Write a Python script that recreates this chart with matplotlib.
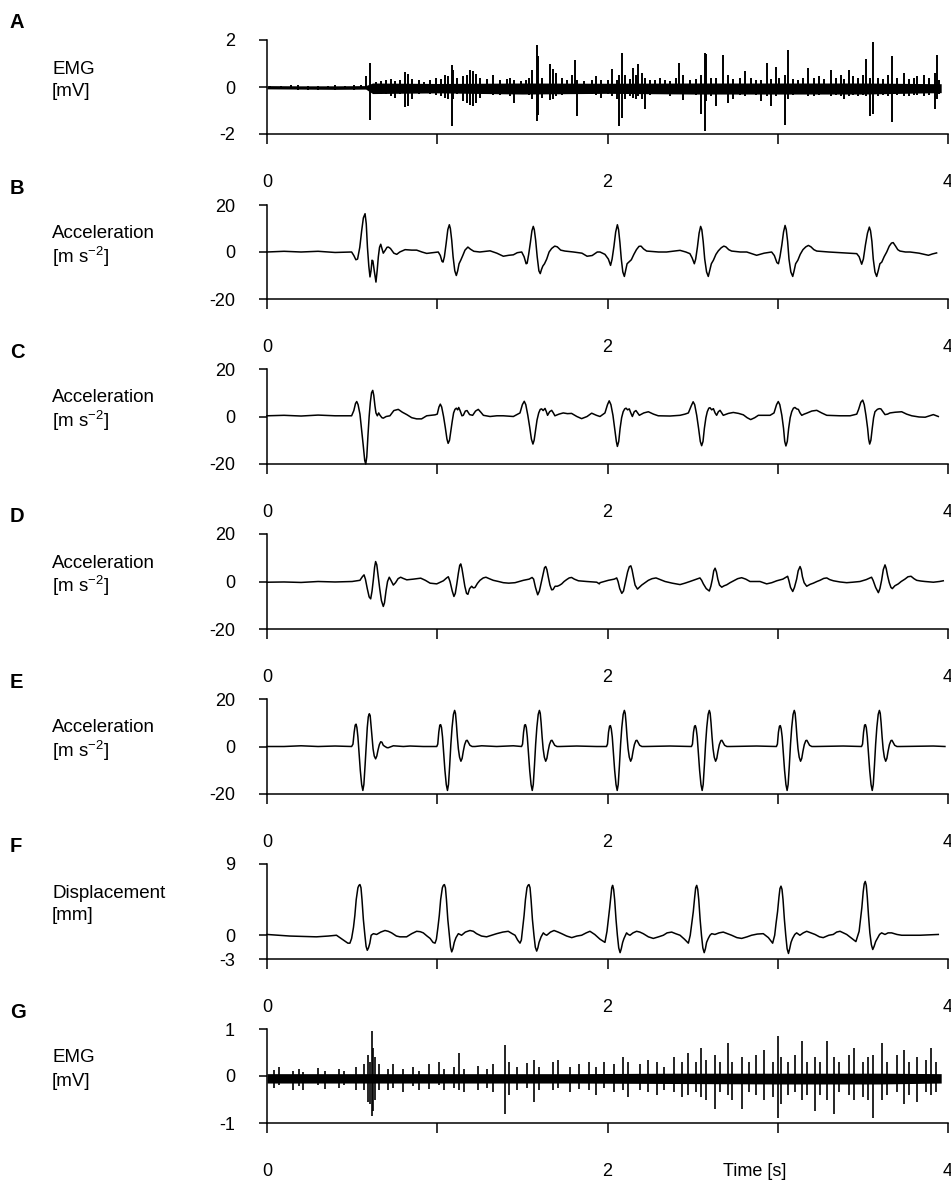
import matplotlib
matplotlib.use("Agg")
import matplotlib.pyplot as plt
import numpy as np

plt.rcParams['font.family'] = ['Liberation Sans', 'DejaVu Sans']
plt.rcParams['mathtext.fontset'] = 'custom'
plt.rcParams['mathtext.rm'] = 'Liberation Sans'
plt.rcParams['mathtext.it'] = 'Liberation Sans'
plt.rcParams['axes.unicode_minus'] = False

# ---------------- data ----------------
panel_letters = ['A', 'B', 'C', 'D', 'E', 'F', 'G']
label_line1 = ['EMG', 'Acceleration', 'Acceleration', 'Acceleration', 'Acceleration', 'Displacement', 'EMG']
label_line2 = ['[mV]', '[m s$^{-2}$]', '[m s$^{-2}$]', '[m s$^{-2}$]', '[m s$^{-2}$]', '[mm]', '[mV]']
y_limits = [(-2, 2), (-20, 20), (-20, 20), (-20, 20), (-20, 20), (-3, 9), (-1, 1)]
y_ticks = [[-2, 0, 2], [-20, 0, 20], [-20, 0, 20], [-20, 0, 20], [-20, 0, 20], [-3, 0, 9], [-1, 0, 1]]
x_ticks = [0, 1, 2, 3, 4]
x_ticklabels = ['0', '', '2', '', '4']
xlabel = 'Time [s]'

# Panel A: EMG -- baseline band (t, upper, lower) and individual strokes (t, upper, lower)
emgA_band = [(0, 0.06, -0.08), (0.2, 0.05, -0.09), (0.4, 0.05, -0.1), (0.58, 0.06, -0.09),
             (0.62, 0.17, -0.28), (1.0, 0.15, -0.25), (1.5, 0.17, -0.3), (2.0, 0.16, -0.27),
             (2.5, 0.17, -0.3), (3.0, 0.17, -0.3), (3.5, 0.17, -0.3), (3.96, 0.14, -0.24)]
emgA_strokes = [
    (0.02, 0.06, -0.1), (0.08, 0.04, -0.1), (0.14, 0.07, -0.1), (0.18, 0.08, -0.12), (0.24, 0.05, -0.11),
    (0.30, 0.06, -0.12), (0.36, 0.05, -0.1), (0.40, 0.1, -0.12), (0.46, 0.05, -0.1), (0.51, 0.07, -0.11),
    (0.55, 0.1, -0.1), (0.583, 0.45, -0.1), (0.605, 1.03, -1.39), (0.64, 0.2, -0.25), (0.67, 0.25, -0.3),
    (0.70, 0.3, -0.3), (0.73, 0.35, -0.4), (0.75, 0.25, -0.45), (0.78, 0.3, -0.3), (0.81, 0.65, -0.87),
    (0.83, 0.55, -0.8), (0.85, 0.35, -0.5), (0.89, 0.3, -0.3), (0.92, 0.2, -0.25), (0.96, 0.3, -0.3),
    (0.99, 0.4, -0.35), (1.02, 0.35, -0.4), (1.045, 0.5, -0.45), (1.065, 0.45, -0.5), (1.085, 0.93, -1.64),
    (1.095, 0.72, -0.5), (1.114, 0.4, -0.3), (1.153, 0.45, -0.6), (1.173, 0.5, -0.7), (1.19, 0.72, -0.78),
    (1.212, 0.7, -0.8), (1.23, 0.55, -0.7), (1.25, 0.4, -0.45), (1.29, 0.35, -0.3), (1.33, 0.5, -0.35),
    (1.37, 0.3, -0.35), (1.41, 0.35, -0.3), (1.43, 0.4, -0.4), (1.45, 0.3, -0.67), (1.49, 0.25, -0.25),
    (1.52, 0.3, -0.3), (1.54, 0.4, -0.35), (1.555, 0.72, -0.5), (1.584, 1.79, -1.43), (1.594, 1.3, -1.2),
    (1.613, 0.4, -0.45), (1.66, 0.96, -0.55), (1.68, 0.75, -0.5), (1.70, 0.6, -0.4), (1.73, 0.4, -0.35),
    (1.76, 0.3, -0.3), (1.79, 0.5, -0.3), (1.81, 1.14, -0.3), (1.82, 0.3, -1.22), (1.86, 0.25, -0.25),
    (1.91, 0.3, -0.3), (1.93, 0.45, -0.35), (1.96, 0.3, -0.45), (2.00, 0.3, -0.3), (2.024, 0.75, -0.4),
    (2.054, 0.3, -0.5), (2.07, 0.5, -1.64), (2.084, 1.44, -1.3), (2.10, 0.5, -0.5), (2.13, 0.35, -0.4),
    (2.15, 0.8, -0.45), (2.17, 0.5, -0.5), (2.18, 0.96, -0.4), (2.20, 0.6, -0.5), (2.22, 0.4, -0.94),
    (2.25, 0.3, -0.35), (2.28, 0.3, -0.3), (2.31, 0.4, -0.3), (2.34, 0.3, -0.3), (2.37, 0.25, -0.4),
    (2.40, 0.4, -0.3), (2.42, 1.04, -0.3), (2.445, 0.5, -0.55), (2.485, 0.3, -0.3), (2.52, 0.35, -0.35),
    (2.55, 0.5, -1.15), (2.57, 1.44, -1.89), (2.58, 1.4, -0.6), (2.61, 0.4, -0.4), (2.64, 0.4, -0.8),
    (2.68, 1.35, -0.3), (2.71, 0.5, -0.7), (2.74, 0.35, -0.5), (2.78, 0.4, -0.35), (2.81, 0.68, -0.4),
    (2.84, 0.4, -0.3), (2.87, 0.3, -0.35), (2.90, 0.3, -0.6), (2.935, 1.04, -0.4), (2.96, 0.35, -0.8),
    (2.99, 0.85, -0.4), (3.01, 0.4, -0.3), (3.043, 0.5, -1.61), (3.062, 1.58, -0.5), (3.09, 0.35, -0.35),
    (3.12, 0.3, -0.3), (3.15, 0.4, -0.3), (3.18, 0.82, -0.4), (3.21, 0.4, -0.4), (3.24, 0.45, -0.35),
    (3.27, 0.35, -0.3), (3.31, 0.72, -0.4), (3.34, 0.4, -0.35), (3.37, 0.5, -0.4), (3.39, 0.35, -0.53),
    (3.42, 0.73, -0.4), (3.44, 0.45, -0.35), (3.47, 0.4, -0.4), (3.50, 0.5, -0.35), (3.516, 1.21, -0.4),
    (3.54, 0.4, -1.25), (3.56, 1.90, -1.15), (3.59, 0.4, -0.4), (3.62, 0.35, -0.35), (3.65, 0.5, -0.4),
    (3.67, 1.31, -1.5), (3.70, 0.4, -0.35), (3.74, 0.6, -0.4), (3.77, 0.35, -0.4), (3.80, 0.4, -0.35),
    (3.82, 0.45, -0.35), (3.86, 0.5, -0.4), (3.89, 0.4, -0.35), (3.924, 0.6, -0.92), (3.933, 1.35, -0.5),
    (3.95, 0.3, -0.3)]

# Panel B: acceleration (t [s], a [m s-2])
accB = [
    (0.0, 0), (0.1, 0.3), (0.2, 0), (0.3, 0.3), (0.4, -0.2), (0.497, 0), (0.510, -1.5), (0.522, -3.3),
    (0.532, -3.0), (0.545, 2), (0.556, 9), (0.566, 14.5), (0.576, 16.3), (0.583, 12), (0.590, 2),
    (0.598, -6), (0.605, -10.6), (0.611, -8), (0.617, -3.5), (0.622, -3.8), (0.630, -8), (0.640, -12.8),
    (0.647, -8), (0.654, -2), (0.661, 2), (0.668, 3.3), (0.675, 1.5), (0.683, -0.5), (0.695, 0.8),
    (0.705, 2), (0.713, 2.1), (0.725, 1.5), (0.745, -0.5), (0.762, -1.0), (0.780, 0), (0.811, 1.0),
    (0.85, 0.8), (0.879, 0.8), (0.91, 0), (0.938, -0.6), (0.97, -0.3),
    (1.006, 0), (1.018, -1.5), (1.028, -4), (1.034, -4.3), (1.042, -2), (1.052, 3.5), (1.062, 9.5),
    (1.071, 11.6), (1.077, 10), (1.085, 5), (1.093, -2), (1.103, -8), (1.112, -10), (1.120, -8),
    (1.128, -5), (1.138, -3.5), (1.150, -1.5), (1.163, 0.8), (1.180, 2.1), (1.195, 1.2), (1.215, 0.3),
    (1.25, 0), (1.31, 0.5), (1.35, -0.5), (1.388, -1.8), (1.42, -1.4), (1.447, -1.2), (1.47, -0.3),
    (1.496, 0), (1.510, -2), (1.522, -5), (1.528, -4.8), (1.537, -1), (1.547, 4), (1.556, 9),
    (1.564, 10.9), (1.570, 9.5), (1.578, 5), (1.587, -2), (1.597, -8), (1.605, -9.2), (1.612, -7.5),
    (1.620, -6), (1.630, -5), (1.643, -3), (1.657, 0), (1.672, 1.5), (1.690, 2.5), (1.705, 2.2),
    (1.725, 0.8), (1.750, 0.4), (1.80, 0), (1.85, -0.5), (1.88, -1.8), (1.91, -1.5), (1.94, 0),
    (1.956, 0), (1.985, -1), (2.005, -3), (2.018, -5.7), (2.027, -3), (2.038, 2.5), (2.048, 8.5),
    (2.058, 11.6), (2.065, 9.5), (2.073, 4), (2.081, -3), (2.090, -8.5), (2.099, -10.4), (2.106, -8),
    (2.115, -5), (2.125, -4.3), (2.140, -3.3), (2.155, -1), (2.170, 1), (2.185, 2.4), (2.197, 2.5),
    (2.212, 1.3), (2.230, 0.4), (2.30, 0), (2.347, 0), (2.40, 0.5), (2.426, 0.7), (2.46, 0), (2.484, -0.7),
    (2.497, -2.5), (2.510, -5), (2.518, -3), (2.528, 2), (2.538, 8), (2.547, 10.9), (2.554, 9.5),
    (2.562, 4.5), (2.571, -3), (2.582, -8.5), (2.592, -10.4), (2.600, -8), (2.610, -5), (2.622, -3.5),
    (2.637, -1), (2.651, 0.5), (2.668, 1.8), (2.683, 2.5), (2.695, 2.2), (2.712, 1), (2.729, 0.4),
    (2.78, 0), (2.818, 0), (2.85, -0.8), (2.876, -1.4), (2.92, -0.5), (2.964, 0),
    (2.980, -1.5), (2.995, -4.5), (3.004, -5), (3.013, -2), (3.024, 3), (3.034, 8.5), (3.043, 11.3),
    (3.050, 9.5), (3.058, 4.5), (3.066, -3), (3.077, -8.5), (3.088, -10.4), (3.096, -8), (3.105, -5),
    (3.118, -3.5), (3.132, -1), (3.148, 1), (3.165, 2.2), (3.180, 2.8), (3.195, 2.2), (3.212, 1),
    (3.229, 0.4), (3.30, 0), (3.366, -0.3), (3.42, -0.5), (3.464, -0.7),
    (3.478, -2), (3.493, -5.2), (3.503, -3), (3.515, 3), (3.527, 8), (3.538, 10.6), (3.545, 9),
    (3.553, 4.5), (3.561, -3), (3.571, -8.5), (3.581, -10.4), (3.590, -8), (3.600, -5), (3.611, -4.3),
    (3.625, -2), (3.640, 0), (3.655, 2.5), (3.668, 3.8), (3.678, 4), (3.692, 2.5), (3.705, 1),
    (3.718, 0.4), (3.75, 0), (3.777, 0), (3.83, -0.5), (3.86, -1), (3.885, -1.4), (3.91, -0.8), (3.933, -0.4)]

# Panel C: acceleration
accC = [
    (0.0, 0.3), (0.1, 0.5), (0.2, 0.2), (0.3, 0.6), (0.4, 0.3), (0.497, 0.3), (0.510, 2.5), (0.520, 5.5),
    (0.527, 6.3), (0.535, 5), (0.546, 1), (0.555, -5), (0.565, -12), (0.574, -18.5), (0.580, -20),
    (0.586, -17), (0.593, -8), (0.600, 0), (0.607, 6), (0.614, 10), (0.621, 11), (0.627, 9), (0.634, 4.5),
    (0.640, 1.5), (0.648, 0.3), (0.656, 1.5), (0.664, 0.5), (0.675, -0.5), (0.683, -0.7), (0.700, 0),
    (0.722, 0.3), (0.745, 2.5), (0.771, 3), (0.795, 1.8), (0.821, 0.8), (0.850, -0.5), (0.879, -1),
    (0.908, -1), (0.938, 0.3), (0.987, 0.7),
    (1.000, 1), (1.010, 4), (1.018, 5.2), (1.026, 4), (1.037, 0), (1.047, -4.5), (1.057, -9.5),
    (1.064, -11.3), (1.072, -10), (1.080, -6), (1.088, -2), (1.096, 1.5), (1.104, 3), (1.112, 3.5),
    (1.120, 2.8), (1.126, 3.8), (1.134, 2.5), (1.145, 0.3), (1.153, 0.5), (1.165, 2.3), (1.175, 2.5),
    (1.190, 0.8), (1.208, 0.5), (1.225, 2.3), (1.241, 3), (1.256, 1.8), (1.271, 0.5), (1.310, 0),
    (1.35, 0.3), (1.388, 0.3), (1.447, 0),
    (1.486, 1.5), (1.500, 5), (1.511, 6.4), (1.520, 5), (1.532, 0.5), (1.543, -4.5), (1.553, -9.5),
    (1.562, -11.6), (1.569, -10), (1.577, -6), (1.586, -1.5), (1.596, 1.5), (1.605, 3), (1.613, 3.2),
    (1.622, 2.5), (1.633, 3.4), (1.641, 2), (1.648, 0.5), (1.660, 2), (1.672, 2.6), (1.682, 1.5),
    (1.691, 0.3), (1.715, 1), (1.740, 1.5), (1.765, 1.2), (1.789, 1.3), (1.82, 0), (1.848, -0.9),
    (1.88, 0), (1.907, 1.4), (1.935, 0.5), (1.956, 0),
    (1.985, 1.5), (2.000, 5), (2.010, 6.6), (2.020, 5), (2.032, 0.5), (2.042, -5), (2.052, -10.5),
    (2.058, -12.6), (2.066, -10.5), (2.074, -5), (2.083, -0.5), (2.092, 2), (2.101, 3.2), (2.109, 3.5),
    (2.118, 2.8), (2.128, 3.2), (2.137, 1.5), (2.146, 0), (2.157, 2), (2.167, 2.5), (2.177, 1.5),
    (2.187, 0.5), (2.213, 1.5), (2.240, 2), (2.270, 1), (2.298, 0.3), (2.367, 0.2), (2.426, 0.5),
    (2.455, 1),
    (2.475, 1.5), (2.492, 4.5), (2.503, 6.2), (2.512, 5), (2.524, 0.5), (2.535, -5), (2.545, -10.5),
    (2.553, -12.3), (2.561, -10.5), (2.569, -5), (2.578, -0.5), (2.586, 2), (2.595, 3.5), (2.602, 3.7),
    (2.612, 2.8), (2.622, 3.3), (2.632, 1.5), (2.641, 0.5), (2.651, 2), (2.661, 2.6), (2.671, 1.5),
    (2.680, 0.5), (2.710, 1.3), (2.739, 1.7), (2.770, 1.3), (2.798, 0.7), (2.820, -0.5), (2.841, -1.3),
    (2.865, -0.5), (2.886, 0.5), (2.955, 0.5),
    (2.978, 1.5), (2.993, 5), (3.003, 6.3), (3.012, 5), (3.024, 0.5), (3.034, -5), (3.041, -10.5),
    (3.048, -12.4), (3.056, -10.5), (3.064, -5), (3.073, -0.5), (3.082, 2), (3.092, 3.5), (3.101, 3.8),
    (3.111, 3.2), (3.121, 3), (3.131, 1.5), (3.141, 0.5), (3.155, 1), (3.170, 1.4), (3.200, 2.3),
    (3.229, 2.6), (3.258, 1.5), (3.288, 0.5), (3.366, 0.3), (3.425, 0.3), (3.464, 1),
    (3.475, 3), (3.488, 6), (3.499, 6.9), (3.508, 5), (3.518, 0.5), (3.528, -5), (3.534, -9.5),
    (3.540, -11.6), (3.547, -10), (3.555, -5), (3.563, -0.5), (3.571, 2), (3.585, 3), (3.596, 3.3),
    (3.606, 3.2), (3.618, 2), (3.630, 0.8), (3.645, 1), (3.659, 1.5), (3.690, 1.8), (3.728, 2),
    (3.757, 1), (3.787, 0.3), (3.83, -0.2), (3.866, -0.3), (3.90, 0.5), (3.914, 0.8), (3.943, 0)]

# Panel D: acceleration
accD = [
    (0.0, -0.3), (0.1, -0.2), (0.2, -0.4), (0.3, 0), (0.4, -0.2), (0.5, 0), (0.546, 0.5), (0.560, 2),
    (0.570, 2.8), (0.578, 1), (0.589, -3), (0.600, -6.5), (0.609, -7.3), (0.617, -4), (0.625, 1),
    (0.632, 6), (0.638, 8.4), (0.645, 7), (0.652, 3), (0.662, -3), (0.672, -8), (0.683, -10.5),
    (0.690, -9), (0.699, -4), (0.708, 0), (0.718, 1.8), (0.728, 0.5), (0.742, -1.5), (0.755, -0.5),
    (0.770, 1.2), (0.785, 1.8), (0.800, 1.3), (0.821, 0.7), (0.860, 1), (0.903, 1.4), (0.93, 0.5),
    (0.958, -0.7), (0.997, -1), (1.036, 0.3),
    (1.055, 1.5), (1.065, 2), (1.075, 0), (1.088, -4), (1.098, -6.3), (1.106, -5), (1.115, -1),
    (1.124, 3.5), (1.132, 6.8), (1.138, 7.4), (1.145, 5.5), (1.152, 2.5), (1.162, -2), (1.172, -5),
    (1.180, -5.4), (1.190, -3), (1.202, -2), (1.212, -2.7), (1.222, -2.5), (1.236, -0.8), (1.251, 0.5),
    (1.270, 1.5), (1.286, 1.8), (1.305, 1.2), (1.329, 0.5), (1.36, 0), (1.388, -0.5), (1.42, -0.7),
    (1.457, -0.5), (1.506, 0.5), (1.540, 1),
    (1.557, 1.7), (1.566, 1), (1.577, -2.5), (1.590, -5.6), (1.600, -4), (1.612, 0), (1.622, 3.5),
    (1.630, 5.8), (1.637, 6.3), (1.644, 5), (1.652, 2), (1.662, -1.5), (1.672, -3.5), (1.680, -3.4),
    (1.692, -2), (1.705, -2), (1.718, -1.6), (1.731, -1), (1.745, 0), (1.760, 0.8), (1.775, 1.5),
    (1.789, 1.7), (1.805, 1), (1.829, 0.3), (1.878, 0), (1.937, -0.3), (1.952, -1),
    (1.956, -0.5), (2.005, 0.5), (2.040, 1), (2.054, 1.5), (2.062, 0), (2.072, -3), (2.084, -5),
    (2.094, -4), (2.106, 0), (2.118, 4), (2.128, 6.2), (2.137, 6.6), (2.144, 5), (2.152, 2),
    (2.162, -1.5), (2.176, -3.2), (2.188, -2.4), (2.201, -1.5), (2.220, -0.5), (2.240, 0.5),
    (2.262, 1.2), (2.285, 1.5), (2.310, 0.8), (2.338, 0), (2.38, -0.7), (2.426, -1.3), (2.455, -0.7),
    (2.484, 0), (2.515, 0.8),
    (2.543, 1.5), (2.553, 0.5), (2.563, -1), (2.580, -3), (2.598, -4), (2.607, -2), (2.616, 1),
    (2.624, 4.5), (2.632, 5.6), (2.640, 4), (2.648, 1), (2.658, -1.5), (2.671, -2.4), (2.685, -1.8),
    (2.700, -1.4), (2.720, -0.5), (2.739, 0.2), (2.765, 1.2), (2.788, 1.6), (2.812, 1), (2.837, 0),
    (2.896, 0), (2.935, -1), (2.965, -0.5), (2.994, 0.3), (3.030, 1),
    (3.058, 2.2), (3.065, 0.5), (3.075, -2.5), (3.088, -4.2), (3.098, -2.5), (3.111, 1), (3.120, 4.5),
    (3.131, 6.3), (3.138, 5), (3.145, 2), (3.155, -0.5), (3.170, -2), (3.190, -1.2), (3.209, -0.7),
    (3.230, 0), (3.248, 0.5), (3.270, 1.3), (3.288, 1.5), (3.305, 0.8), (3.327, 0.3), (3.366, -0.2),
    (3.405, -0.5), (3.44, -0.3), (3.483, 0), (3.520, 0.8),
    (3.551, 1.8), (3.560, 0.5), (3.575, -2.5), (3.591, -4.7), (3.600, -3), (3.610, 0.5), (3.620, 5),
    (3.630, 7), (3.637, 5.5), (3.645, 2.5), (3.655, -0.5), (3.665, -2.5), (3.673, -3), (3.688, -1.8),
    (3.708, -1), (3.725, 0), (3.747, 1), (3.765, 2), (3.783, 2.2), (3.800, 1.2), (3.816, 0.5),
    (3.840, 0.2), (3.865, 0), (3.914, -0.3), (3.95, 0), (3.972, 0.3)]

# Panel E: acceleration
accE = [
    (0.0, 0), (0.1, 0), (0.2, 0.3), (0.3, 0), (0.4, 0.2), (0.497, 0), (0.505, 1), (0.512, 6), (0.518, 9),
    (0.523, 9.4), (0.528, 8), (0.534, 4), (0.541, -3), (0.548, -10), (0.556, -16), (0.563, -18.5),
    (0.569, -16), (0.576, -8), (0.583, 1), (0.589, 8), (0.595, 12.5), (0.601, 13.8), (0.606, 13),
    (0.611, 9), (0.617, 4), (0.623, -1), (0.630, -4), (0.638, -5.2), (0.645, -4), (0.652, -1.5),
    (0.660, 0.8), (0.668, 2), (0.675, 1.8), (0.683, 0.5), (0.693, 0), (0.705, -0.5), (0.713, -0.5),
    (0.742, 0.3), (0.801, 0), (0.84, 0.2), (0.918, 0),
    (0.997, 0), (1.003, 1), (1.009, 6), (1.015, 9), (1.020, 9.2), (1.025, 8), (1.031, 4), (1.038, -3),
    (1.045, -10), (1.053, -16), (1.060, -18.5), (1.066, -16), (1.073, -8), (1.080, 1), (1.087, 8),
    (1.095, 13.5), (1.102, 15.2), (1.107, 14), (1.112, 10), (1.118, 4), (1.124, -1), (1.131, -4.5),
    (1.139, -6.2), (1.146, -5), (1.153, -2), (1.161, 0.8), (1.170, 2.5), (1.176, 2.6), (1.184, 1.5),
    (1.192, 0.5), (1.205, 0), (1.222, 0), (1.261, 0.3), (1.349, 0), (1.447, 0.3),
    (1.495, 0), (1.501, 1), (1.507, 6), (1.513, 9), (1.518, 9.2), (1.523, 8), (1.529, 4), (1.536, -3),
    (1.543, -10), (1.551, -16), (1.558, -18.5), (1.564, -16), (1.571, -8), (1.578, 1), (1.585, 8),
    (1.593, 13.5), (1.600, 15.2), (1.605, 14), (1.610, 10), (1.616, 4), (1.622, -1), (1.629, -4.5),
    (1.637, -6.2), (1.644, -5), (1.651, -2), (1.659, 0.8), (1.668, 2.5), (1.674, 2.6), (1.682, 1.5),
    (1.690, 0.5), (1.703, 0), (1.72, 0), (1.819, 0.2), (1.936, 0),
    (1.994, 0), (2.000, 1), (2.006, 6), (2.012, 8.5), (2.017, 8.8), (2.022, 7.5), (2.028, 4), (2.035, -3),
    (2.042, -10), (2.050, -16), (2.057, -18.5), (2.063, -16), (2.070, -8), (2.077, 1), (2.084, 8),
    (2.092, 13.5), (2.099, 15.2), (2.104, 14), (2.109, 10), (2.115, 4), (2.121, -1), (2.128, -4.5),
    (2.136, -6.2), (2.143, -5), (2.150, -2), (2.158, 0.8), (2.167, 2.5), (2.173, 2.6), (2.181, 1.5),
    (2.189, 0.5), (2.202, 0), (2.22, 0), (2.367, 0.2),
    (2.493, 0), (2.499, 1), (2.505, 6), (2.511, 8.5), (2.516, 8.8), (2.521, 7.5), (2.527, 4), (2.534, -3),
    (2.541, -10), (2.549, -16), (2.556, -18.5), (2.562, -16), (2.569, -8), (2.576, 1), (2.583, 8),
    (2.591, 13.5), (2.598, 15.2), (2.603, 14), (2.608, 10), (2.614, 4), (2.620, -1), (2.627, -4.5),
    (2.635, -6.2), (2.642, -5), (2.649, -2), (2.657, 0.8), (2.666, 2.5), (2.672, 2.6), (2.680, 1.5),
    (2.688, 0.5), (2.701, 0), (2.72, 0), (2.876, 0.2),
    (2.992, 0), (2.998, 1), (3.004, 6), (3.010, 8.5), (3.015, 8.8), (3.020, 7.5), (3.026, 4), (3.033, -3),
    (3.040, -10), (3.048, -16), (3.055, -18.5), (3.061, -16), (3.068, -8), (3.075, 1), (3.082, 8),
    (3.090, 13.5), (3.097, 15.2), (3.102, 14), (3.107, 10), (3.113, 4), (3.119, -1), (3.126, -4.5),
    (3.134, -6.2), (3.141, -5), (3.148, -2), (3.156, 0.8), (3.165, 2.5), (3.171, 2.6), (3.179, 1.5),
    (3.187, 0.5), (3.200, 0), (3.22, 0), (3.385, 0.2),
    (3.492, 0), (3.498, 1), (3.504, 6), (3.510, 9), (3.515, 9.2), (3.520, 8), (3.526, 4), (3.533, -3),
    (3.540, -10), (3.548, -16), (3.555, -18.5), (3.561, -16), (3.568, -8), (3.575, 1), (3.582, 8),
    (3.590, 13.5), (3.597, 15.2), (3.602, 14), (3.607, 10), (3.613, 4), (3.619, -1), (3.626, -4.5),
    (3.634, -6.2), (3.641, -5), (3.648, -2), (3.656, 0.8), (3.665, 2.5), (3.671, 2.6), (3.679, 1.5),
    (3.687, 0.5), (3.700, 0), (3.72, 0), (3.914, 0.2), (3.982, 0)]

# Panel F: displacement (t [s], mm)
dispF = [
    (0.0, 0.1), (0.134, -0.1), (0.290, -0.2), (0.360, -0.1), (0.408, 0), (0.448, -0.6), (0.475, -1.0),
    (0.487, -1.0), (0.497, -0.4), (0.508, 1), (0.516, 2.5), (0.524, 4.5), (0.534, 6), (0.540, 6.3),
    (0.546, 6.4), (0.552, 6), (0.558, 4.5), (0.566, 2), (0.575, 0), (0.582, -1.4), (0.589, -1.9),
    (0.596, -1.6), (0.604, -1), (0.612, 0), (0.625, 0.2), (0.644, 0.1), (0.668, 0.4), (0.693, 0.6),
    (0.712, 0.5), (0.732, 0.3), (0.760, -0.1), (0.781, -0.2), (0.820, -0.2), (0.850, 0.2), (0.879, 0.5),
    (0.900, 0.45), (0.918, 0.3), (0.940, -0.1), (0.958, -0.4), (0.975, -0.9), (0.987, -1),
    (0.995, -0.5), (1.004, 1), (1.012, 2.5), (1.020, 4.5), (1.030, 6), (1.036, 6.3), (1.042, 6.4),
    (1.048, 6), (1.054, 4.5), (1.062, 2), (1.071, 0), (1.078, -1.5), (1.085, -2.1), (1.092, -1.7),
    (1.100, -0.9), (1.110, -0.3), (1.124, 0.2), (1.133, 0.1), (1.143, 0), (1.165, 0.4), (1.192, 0.6),
    (1.212, 0.5), (1.231, 0.2), (1.260, -0.1), (1.290, -0.2), (1.320, 0), (1.349, 0.2), (1.385, 0.4),
    (1.417, 0.5), (1.440, 0.2), (1.457, 0), (1.472, -0.6), (1.486, -1),
    (1.494, -0.6), (1.502, 1), (1.510, 2.5), (1.518, 4.5), (1.527, 6), (1.533, 6.3), (1.539, 6.4),
    (1.545, 6), (1.551, 4.5), (1.559, 2), (1.568, 0), (1.576, -1.5), (1.584, -2), (1.591, -1.6),
    (1.598, -0.9), (1.610, -0.2), (1.623, 0.3), (1.633, 0.1), (1.643, 0), (1.665, 0.4), (1.686, 0.6),
    (1.710, 0.4), (1.731, 0.2), (1.760, -0.1), (1.790, -0.3), (1.820, -0.1), (1.848, 0), (1.875, 0.3),
    (1.897, 0.5), (1.925, 0.1), (1.956, -0.5), (1.985, -0.9),
    (1.997, 0.5), (2.005, 2), (2.013, 3.5), (2.020, 5), (2.025, 6), (2.030, 6.3), (2.036, 5.8),
    (2.042, 4.5), (2.050, 2), (2.058, 0), (2.066, -1.6), (2.074, -2.2), (2.081, -1.7), (2.089, -0.9),
    (2.097, -0.4), (2.112, 0.3), (2.122, 0.1), (2.132, 0), (2.150, 0.3), (2.171, 0.5), (2.190, 0.4),
    (2.210, 0.2), (2.240, -0.2), (2.269, -0.4), (2.300, -0.2), (2.328, 0), (2.350, 0.3), (2.377, 0.4),
    (2.400, 0.2), (2.426, 0), (2.452, -0.5), (2.475, -1),
    (2.486, 0), (2.495, 1.5), (2.504, 3), (2.512, 4.8), (2.518, 6), (2.524, 6.3), (2.530, 5.8),
    (2.536, 4.5), (2.544, 2), (2.552, 0), (2.560, -1.6), (2.568, -2.2), (2.575, -1.7), (2.582, -0.9),
    (2.592, -0.4), (2.602, 0), (2.612, 0.2), (2.631, 0.1), (2.655, 0.3), (2.680, 0.4), (2.705, 0.2),
    (2.729, 0), (2.760, -0.3), (2.788, -0.4), (2.820, -0.2), (2.846, 0), (2.880, 0.15), (2.915, 0.2),
    (2.945, -0.3), (2.970, -1),
    (2.982, 0), (2.990, 1.5), (2.999, 3), (3.007, 4.8), (3.013, 5.9), (3.019, 6.2), (3.025, 5.8),
    (3.031, 4.5), (3.039, 2), (3.047, 0), (3.055, -1.7), (3.063, -2.3), (3.070, -1.7), (3.078, -0.9),
    (3.087, -0.4), (3.100, 0.1), (3.111, 0.3), (3.130, 0), (3.150, 0.3), (3.170, 0.5), (3.195, 0.3),
    (3.219, 0.1), (3.245, -0.2), (3.267, -0.3), (3.300, 0), (3.326, 0.1), (3.346, 0.4), (3.366, 0.5),
    (3.385, 0.3), (3.405, 0.1), (3.435, -0.4), (3.459, -0.8),
    (3.478, 0.5), (3.486, 2), (3.494, 3.5), (3.502, 5.5), (3.508, 6.5), (3.514, 6.8), (3.520, 6.3),
    (3.526, 4.8), (3.533, 2.5), (3.541, 0.3), (3.550, -1.2), (3.558, -1.8), (3.566, -1.4), (3.575, -0.8),
    (3.585, -0.4), (3.598, 0.1), (3.610, 0.3), (3.630, 0.1), (3.648, 0.3), (3.669, 0.3), (3.700, 0.1),
    (3.728, 0), (3.835, 0), (3.943, 0.1)]

# Panel G: EMG -- band and strokes
emgG_band = [(0, 0.05, -0.15), (0.6, 0.05, -0.15), (1.2, 0.05, -0.15), (1.8, 0.05, -0.15),
             (2.4, 0.06, -0.16), (3.0, 0.06, -0.17), (3.6, 0.06, -0.17), (3.96, 0.05, -0.15)]
emgG_strokes = [
    (0.04, 0.12, -0.25), (0.07, 0.2, -0.2), (0.15, 0.1, -0.3), (0.19, 0.15, -0.22), (0.21, 0.08, -0.3),
    (0.30, 0.18, -0.2), (0.34, 0.1, -0.28), (0.42, 0.15, -0.25), (0.45, 0.1, -0.2), (0.52, 0.2, -0.3),
    (0.57, 0.25, -0.3), (0.595, 0.45, -0.55), (0.605, 0.3, -0.6), (0.617, 0.95, -0.85), (0.625, 0.6, -0.75),
    (0.635, 0.4, -0.5), (0.66, 0.25, -0.3), (0.71, 0.15, -0.3), (0.74, 0.25, -0.25), (0.80, 0.15, -0.35),
    (0.86, 0.2, -0.22), (0.89, 0.1, -0.3), (0.95, 0.25, -0.28), (1.01, 0.3, -0.2), (1.04, 0.15, -0.3),
    (1.10, 0.2, -0.25), (1.13, 0.5, -0.3), (1.16, 0.15, -0.35), (1.24, 0.22, -0.3), (1.29, 0.15, -0.25),
    (1.33, 0.25, -0.35), (1.40, 0.65, -0.8), (1.42, 0.3, -0.4), (1.47, 0.2, -0.3), (1.53, 0.28, -0.25),
    (1.57, 0.35, -0.55), (1.60, 0.2, -0.3), (1.68, 0.3, -0.3), (1.71, 0.35, -0.25), (1.78, 0.2, -0.35),
    (1.83, 0.25, -0.28), (1.89, 0.3, -0.3), (1.93, 0.2, -0.4), (1.98, 0.3, -0.25), (2.04, 0.25, -0.35),
    (2.09, 0.4, -0.3), (2.12, 0.3, -0.45), (2.19, 0.25, -0.3), (2.24, 0.35, -0.35), (2.29, 0.3, -0.4),
    (2.33, 0.2, -0.3), (2.39, 0.4, -0.35), (2.44, 0.3, -0.45), (2.47, 0.5, -0.4), (2.52, 0.3, -0.35),
    (2.55, 0.6, -0.45), (2.58, 0.35, -0.5), (2.63, 0.45, -0.7), (2.66, 0.3, -0.35), (2.71, 0.7, -0.4),
    (2.73, 0.3, -0.5), (2.79, 0.4, -0.7), (2.83, 0.3, -0.35), (2.87, 0.45, -0.4), (2.92, 0.55, -0.5),
    (2.97, 0.3, -0.45), (3.00, 0.85, -0.9), (3.02, 0.4, -0.6), (3.06, 0.3, -0.4), (3.10, 0.45, -0.35),
    (3.14, 0.75, -0.5), (3.17, 0.3, -0.4), (3.22, 0.4, -0.75), (3.25, 0.3, -0.4), (3.29, 0.75, -0.5),
    (3.33, 0.4, -0.8), (3.36, 0.3, -0.35), (3.42, 0.45, -0.4), (3.45, 0.6, -0.5), (3.50, 0.3, -0.45),
    (3.53, 0.4, -0.5), (3.56, 0.45, -0.9), (3.61, 0.7, -0.5), (3.64, 0.3, -0.4), (3.70, 0.45, -0.35),
    (3.74, 0.55, -0.6), (3.77, 0.3, -0.4), (3.82, 0.4, -0.55), (3.87, 0.35, -0.35), (3.90, 0.6, -0.4),
    (3.93, 0.3, -0.35)]

# ---------------- layout ----------------
W, H = 951, 1190
fig = plt.figure(figsize=(W / 100, H / 100), dpi=100)
ax_left, ax_right = 267, 948
panel_top = [40, 205, 369, 534, 699, 864, 1029]
panel_bot = [134, 299, 464, 629, 794, 959, 1123]

FS = 13
axes = []
for i in range(7):
    t, b = panel_top[i], panel_bot[i]
    ax = fig.add_axes([ax_left / W, 1 - b / H, (ax_right - ax_left) / W, (b - t) / H])
    ax.set_xlim(0, 4)
    ax.set_ylim(*y_limits[i])
    for s in ['top', 'right']:
        ax.spines[s].set_visible(False)
    for s in ['left', 'bottom']:
        ax.spines[s].set_linewidth(1.1)
    ax.set_xticks(x_ticks)
    ax.set_xticklabels(x_ticklabels)
    ax.set_yticks(y_ticks[i])
    ax.set_yticklabels([str(v) for v in y_ticks[i]])
    ax.tick_params(axis='x', direction='out', length=7.5, width=1.1, pad=21, labelsize=FS)
    ax.tick_params(axis='y', direction='out', length=6, width=1.1, pad=17, labelsize=FS)
    ax.patch.set_alpha(0)
    axes.append(ax)
    fig.text(10 / W, 1 - (t - 17) / H, panel_letters[i], fontsize=14.5, fontweight='bold',
             ha='left', va='center')
    fig.text(52 / W, 1 - (t + 29) / H, label_line1[i], fontsize=13.5, ha='left', va='center')
    fig.text(52 / W, 1 - (t + 52) / H, label_line2[i], fontsize=13.5, ha='left', va='center')

LW = 1.1


def draw_emg(ax, band, strokes, lw):
    bt, bh, bl = zip(*band)
    ax.fill_between(bt, bl, bh, color='black', lw=0)
    st, sh, sl = zip(*strokes)
    ax.vlines(st, sl, sh, color='black', lw=lw)


draw_emg(axes[0], emgA_band, emgA_strokes, 1.4)
for ax, series in zip(axes[1:6], [accB, accC, accD, accE, dispF]):
    tt, vv = zip(*series)
    ax.plot(tt, vv, color='black', lw=LW, clip_on=False, solid_joinstyle='round')
draw_emg(axes[6], emgG_band, emgG_strokes, 1.2)

fig.text(755 / W, 1 - 1172 / H, xlabel, fontsize=13, ha='center', va='center')

fig.savefig('out.png', dpi=100)
